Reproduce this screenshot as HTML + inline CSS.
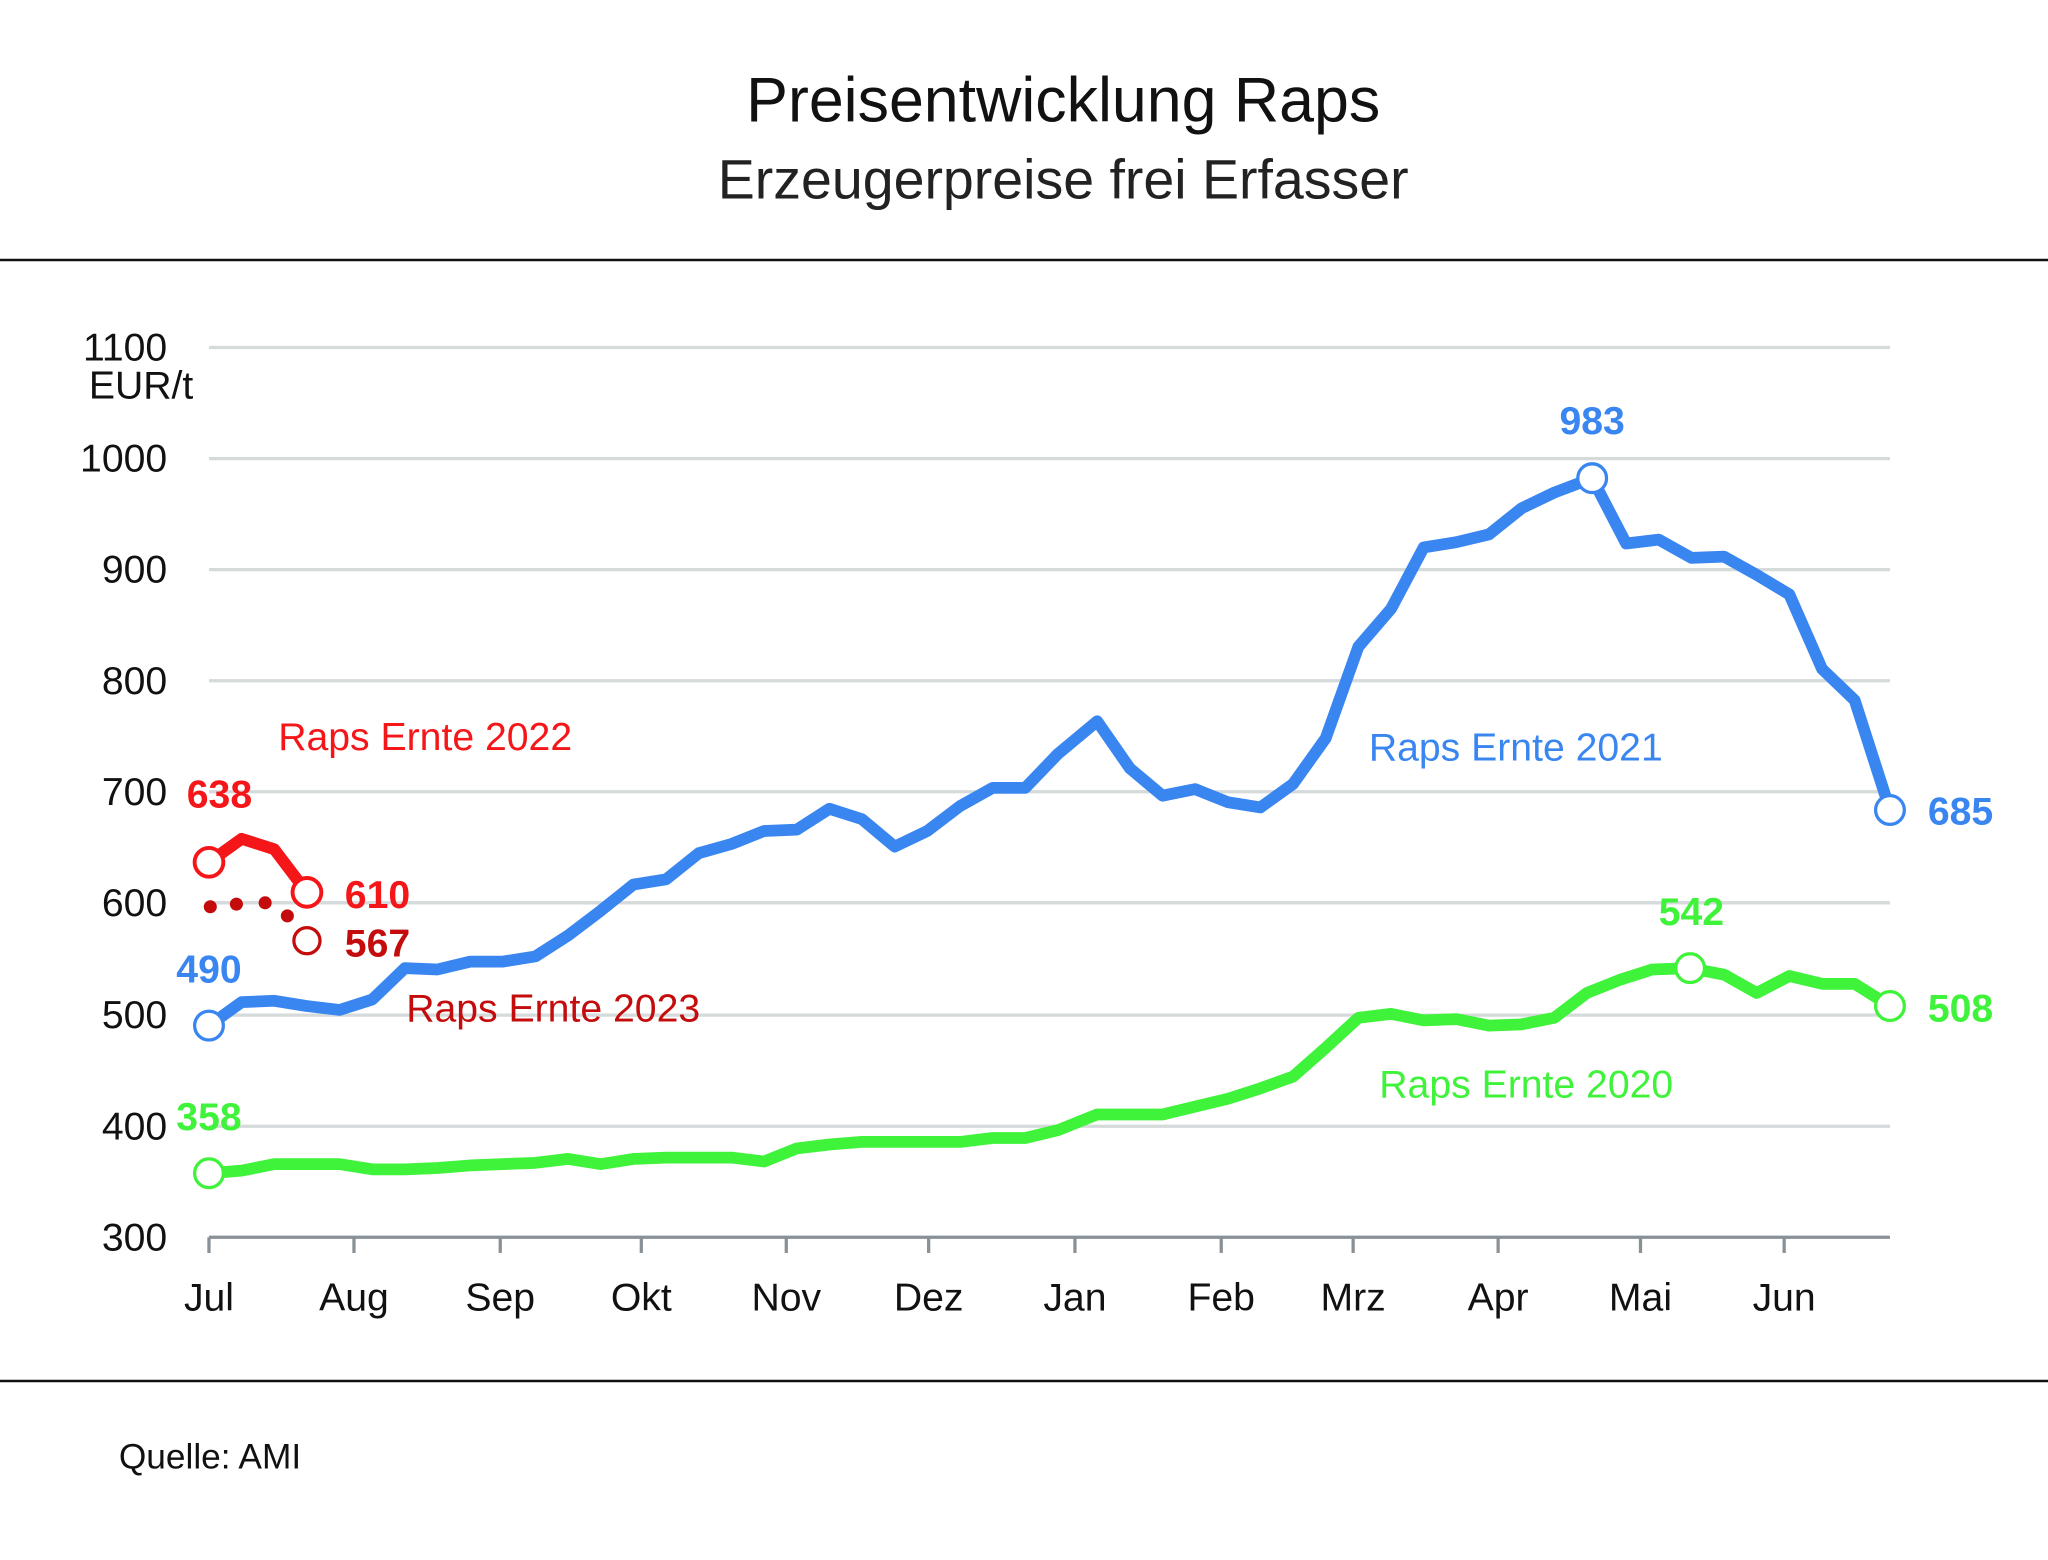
<!DOCTYPE html>
<html><head><meta charset="utf-8"><style>html,body{margin:0;padding:0;background:#fff}svg{display:block}</style></head><body>
<svg width="2048" height="1560" viewBox="0 0 1568 1194" preserveAspectRatio="none" xmlns="http://www.w3.org/2000/svg" font-family="Liberation Sans, DejaVu Sans, sans-serif">
<text x="814" y="93" font-size="48" text-anchor="middle" fill="#111">Preisentwicklung Raps</text>
<text x="814" y="152" font-size="42.5" text-anchor="middle" fill="#222">Erzeugerpreise frei Erfasser</text>
<line x1="0" y1="199" x2="1568" y2="199" stroke="#111" stroke-width="2"/>
<line x1="0" y1="1057" x2="1568" y2="1057" stroke="#111" stroke-width="2"/>
<g stroke="#d5dadb" stroke-width="2.5">
<line x1="160" y1="266" x2="1447" y2="266"/><line x1="160" y1="351" x2="1447" y2="351"/><line x1="160" y1="436" x2="1447" y2="436"/><line x1="160" y1="521" x2="1447" y2="521"/><line x1="160" y1="606" x2="1447" y2="606"/><line x1="160" y1="691" x2="1447" y2="691"/><line x1="160" y1="777" x2="1447" y2="777"/><line x1="160" y1="862" x2="1447" y2="862"/>
</g>
<line x1="160" y1="947" x2="1447" y2="947" stroke="#8a9196" stroke-width="2.5"/>
<g stroke="#8a9196" stroke-width="2.5">
<line x1="160" y1="947" x2="160" y2="959"/><line x1="271" y1="947" x2="271" y2="959"/><line x1="383" y1="947" x2="383" y2="959"/><line x1="491" y1="947" x2="491" y2="959"/><line x1="602" y1="947" x2="602" y2="959"/><line x1="711" y1="947" x2="711" y2="959"/><line x1="823" y1="947" x2="823" y2="959"/><line x1="935" y1="947" x2="935" y2="959"/><line x1="1036" y1="947" x2="1036" y2="959"/><line x1="1147" y1="947" x2="1147" y2="959"/><line x1="1256" y1="947" x2="1256" y2="959"/><line x1="1366" y1="947" x2="1366" y2="959"/>
</g>
<g font-size="30" fill="#111" text-anchor="end">
<text x="128" y="276">1100</text><text x="148" y="305">EUR/t</text><text x="128" y="361">1000</text><text x="128" y="446">900</text><text x="128" y="531">800</text><text x="128" y="616">700</text><text x="128" y="701">600</text><text x="128" y="787">500</text><text x="128" y="872">400</text><text x="128" y="957">300</text>
</g>
<g font-size="30" fill="#111" text-anchor="middle">
<text x="160" y="1003">Jul</text><text x="271" y="1003">Aug</text><text x="383" y="1003">Sep</text><text x="491" y="1003">Okt</text><text x="602" y="1003">Nov</text><text x="711" y="1003">Dez</text><text x="823" y="1003">Jan</text><text x="935" y="1003">Feb</text><text x="1036" y="1003">Mrz</text><text x="1147" y="1003">Apr</text><text x="1256" y="1003">Mai</text><text x="1366" y="1003">Jun</text>
</g>
<g fill="none" stroke-width="9" stroke-linejoin="round">
<polyline stroke="#3a86f0" points="160,785 185,767 210,766 235,770 260,773 285,765 310,741 335,742 360,736 385,736 410,732 435,716 460,697 485,677 510,673 535,653 560,646 585,636 610,635 635,619 660,627 685,648 710,636 735,617 760,603 785,603 810,577 840,552 865,588 890,609 915,604 940,614 965,618 990,600 1015,565 1040,495 1065,466 1090,419 1115,415 1140,409 1165,389 1190,377 1219,366 1245,416 1270,413 1295,427 1320,426 1345,440 1370,455 1395,512 1420,536 1447,620"/>
<polyline stroke="#3ff23a" points="160,898 185,896 210,891 235,891 260,891 285,895 310,895 335,894 360,892 385,891 410,890 435,887 460,891 485,887 510,886 535,886 560,886 585,889 610,879 635,876 660,874 685,874 710,874 735,874 760,871 785,871 810,865 840,853 865,853 890,853 915,847 940,841 965,833 990,824 1015,802 1040,779 1065,776 1090,781 1115,780 1140,785 1165,784 1190,779 1215,760 1240,750 1265,742 1294,741 1320,746 1345,760 1370,747 1395,753 1420,753 1447,770"/>
<polyline stroke="#f5161a" points="160,660 185,642 210,650 235,683"/>
</g>
<g fill="#c40c0c"><circle cx="161" cy="694" r="5"/><circle cx="181" cy="692" r="5"/><circle cx="203" cy="691" r="5"/><circle cx="220" cy="701" r="5"/></g>
<g fill="#fff" stroke-width="2.5">
<circle cx="160" cy="785" r="11" stroke="#3a86f0"/><circle cx="1219" cy="366" r="11" stroke="#3a86f0"/><circle cx="1447" cy="620" r="11" stroke="#3a86f0"/>
<circle cx="160" cy="898" r="11" stroke="#3ff23a"/><circle cx="1294" cy="741" r="11" stroke="#3ff23a"/><circle cx="1447" cy="770" r="11" stroke="#3ff23a"/>
<circle cx="160" cy="660" r="11" stroke="#f5161a" stroke-width="3"/><circle cx="235" cy="683" r="11" stroke="#f5161a" stroke-width="3"/><circle cx="235" cy="720" r="10" stroke="#c40c0c"/>
</g>
<g font-size="30" font-weight="bold">
<text x="168" y="618" fill="#f5161a" text-anchor="middle">638</text>
<text x="264" y="695" fill="#f5161a">610</text>
<text x="264" y="732" fill="#c40c0c">567</text>
<text x="160" y="752" fill="#3a86f0" text-anchor="middle">490</text>
<text x="160" y="865" fill="#3ff23a" text-anchor="middle">358</text>
<text x="1219" y="332" fill="#3a86f0" text-anchor="middle">983</text>
<text x="1476" y="631" fill="#3a86f0">685</text>
<text x="1295" y="708" fill="#3ff23a" text-anchor="middle">542</text>
<text x="1476" y="782" fill="#3ff23a">508</text>
</g>
<g font-size="30">
<text x="213" y="574" fill="#f5161a">Raps Ernte 2022</text>
<text x="311" y="782" fill="#c40c0c">Raps Ernte 2023</text>
<text x="1048" y="582" fill="#3a86f0">Raps Ernte 2021</text>
<text x="1056" y="840" fill="#3ff23a">Raps Ernte 2020</text>
</g>
<text x="91" y="1124" font-size="27" fill="#111">Quelle: AMI</text>
</svg>
</body></html>
